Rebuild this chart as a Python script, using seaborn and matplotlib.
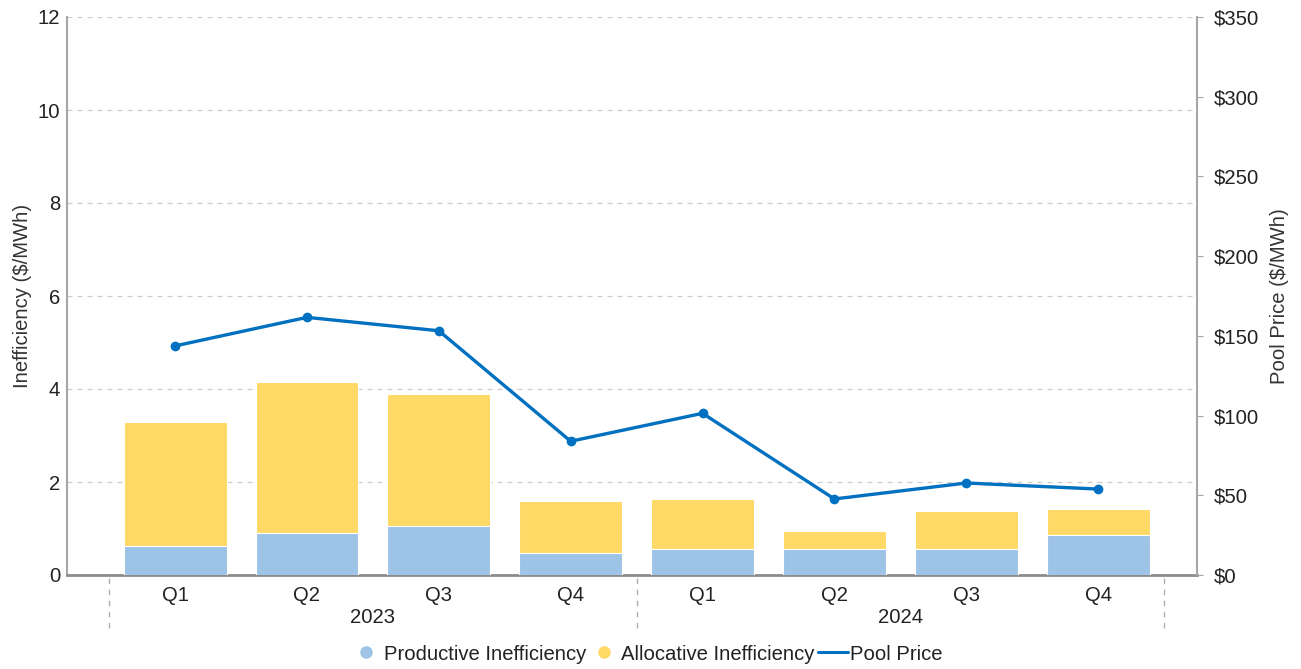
import numpy as np
import pandas as pd
import seaborn as sns
import matplotlib.pyplot as plt
from matplotlib.lines import Line2D
import matplotlib.transforms as mtransforms

quarters = ["Q1", "Q2", "Q3", "Q4", "Q1", "Q2", "Q3", "Q4"]
years = ["2023", "2023", "2023", "2023", "2024", "2024", "2024", "2024"]
productive = [0.63, 0.90, 1.05, 0.47, 0.55, 0.56, 0.56, 0.85]
allocative = [2.66, 3.26, 2.84, 1.12, 1.08, 0.38, 0.81, 0.56]
pool_price = [143.7, 161.6, 153.2, 83.9, 101.4, 47.7, 57.7, 53.9]

blue = "#9DC3E6"
yellow = "#FFD966"
line_col = "#0070C0"
fs = 14.6

sns.set_style("white")
plt.rcParams["font.family"] = ["Liberation Sans", "DejaVu Sans"]

df = pd.DataFrame({
    "period": [y + " " + q for y, q in zip(years, quarters)],
    "productive": productive,
    "total": np.array(productive) + np.array(allocative),
    "price": pool_price,
})
df["pos"] = np.arange(len(df))

fig = plt.figure(figsize=(13.01, 6.69), dpi=100)
ax = fig.add_axes([67 / 1301, 94 / 669, 1130 / 1301, 558 / 669])

sns.barplot(data=df, x="period", y="total", color=yellow, saturation=1,
            width=0.78, edgecolor="white", linewidth=0.8, ax=ax, zorder=2)
sns.barplot(data=df, x="period", y="productive", color=blue, saturation=1,
            width=0.78, edgecolor="white", linewidth=0.8, ax=ax, zorder=3)

ax.set_ylim(0, 12)
ax.set_yticks(range(0, 13, 2))
ax.set_xlim(-0.82, 7.75)
ax.set_xticks(df["pos"])
ax.set_xticklabels(quarters)
ax.set_xlabel("")
ax.set_ylabel("Inefficiency ($/MWh)", fontsize=fs, color="#333333", labelpad=4)
ax.grid(axis="y", color="#cccccc", linestyle=(0, (4, 4)), linewidth=0.9, zorder=0)
ax.set_axisbelow(True)
ax.tick_params(axis="both", labelsize=fs, colors="#222222", length=0)
ax.tick_params(axis="y", pad=5)
ax.tick_params(axis="x", pad=8)
ax.spines["top"].set_visible(False)
ax.spines["left"].set_color("#a6a6a6")
ax.spines["left"].set_linewidth(1.5)
ax.spines["bottom"].set_color("#8c8c8c")
ax.spines["bottom"].set_linewidth(2)
ax.spines["right"].set_visible(False)

ax2 = ax.twinx()
sns.lineplot(x=df["pos"], y=df["price"], ax=ax2, color=line_col, linewidth=2.4,
             marker="o", markersize=7, markeredgewidth=0, zorder=5)
ax2.set_ylim(0, 350)
ax2.set_yticks(range(0, 351, 50))
ax2.set_yticklabels(["$" + str(v) for v in range(0, 351, 50)])
ax2.set_ylabel("Pool Price ($/MWh)", fontsize=fs, color="#333333", labelpad=8)
ax2.tick_params(axis="y", labelsize=fs, colors="#222222", length=4, pad=8)
ax2.tick_params(axis="y", color="#a6a6a6")
ax2.spines["top"].set_visible(False)
ax2.spines["left"].set_visible(False)
ax2.spines["bottom"].set_visible(False)
ax2.spines["right"].set_color("#a6a6a6")
ax2.spines["right"].set_linewidth(1.5)
ax2.set_xlim(-0.82, 7.75)

# year group labels and separators
trans = mtransforms.blended_transform_factory(ax.transData, ax.transAxes)
year_names = list(dict.fromkeys(years))
for yname in year_names:
    idx = [k for k, y in enumerate(years) if y == yname]
    ax.text(np.mean(idx), -0.077, yname, transform=trans, ha="center", va="center",
            fontsize=fs, color="#222222")
bounds = [-0.5] + [k + 0.5 for k in range(len(years) - 1) if years[k] != years[k + 1]] + [len(years) - 0.5]
for b in bounds:
    ax.plot([b, b], [-0.005, -0.1], transform=trans, clip_on=False,
            color="#b0b0b0", linestyle=(0, (4, 4)), linewidth=1)

handles = [
    Line2D([], [], marker="o", linestyle="none", color=blue, markersize=8),
    Line2D([], [], marker="o", linestyle="none", color=yellow, markersize=8),
    Line2D([], [], color=line_col, linewidth=2.2),
]
fig.legend(handles, ["Productive Inefficiency", "Allocative Inefficiency", "Pool Price"],
           loc="center", bbox_to_anchor=(647 / 1301, 1 - 654 / 669), ncol=3, frameon=False,
           fontsize=fs, handletextpad=0.1, columnspacing=0.15, handlelength=1.5,
           labelcolor="#222222")

fig.savefig("out.png", dpi=100)
